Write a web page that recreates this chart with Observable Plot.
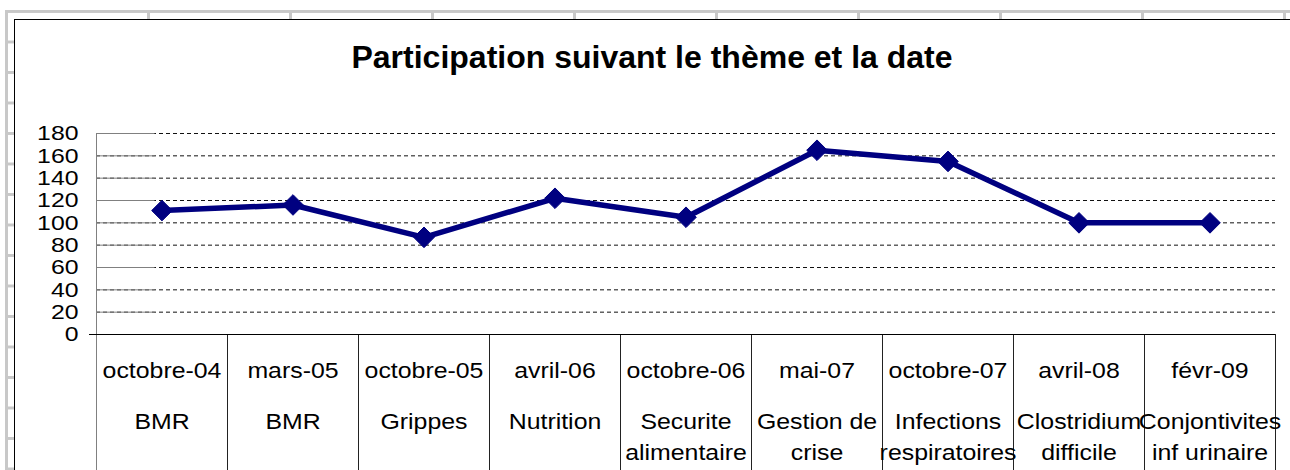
<!DOCTYPE html>
<html><head><meta charset="utf-8">
<script src="https://cdn.jsdelivr.net/npm/d3@7"></script>
<script src="https://cdn.jsdelivr.net/npm/@observablehq/plot@0.6"></script>
<style>
html,body{margin:0;padding:0;background:#fff;overflow:hidden}
#wrap{position:relative;width:1290px;height:470px;overflow:hidden;background:#fff;font-family:"Liberation Sans",Arial,sans-serif}
#sheet{position:absolute;left:5px;top:10px;right:0;bottom:0;
  background-image:linear-gradient(to right,#c8c8c8 0 3px,transparent 3px),linear-gradient(to bottom,#c8c8c8 0 3px,transparent 3px);
  background-size:142px 100%,100% 30.5px;background-position:0 0,0 0;}
#box{position:absolute;left:14px;top:19px;width:1290px;height:470px;background:#fff;border:1px solid #000;}
#title{position:absolute;left:14px;width:1276px;top:41px;text-align:center;font-weight:bold;font-size:32px;line-height:32px;color:#000}
#chart{position:absolute;left:0;top:100px}
</style>
</head><body>
<div id="wrap">
  <div id="sheet"></div>
  <div id="box"></div>
  <div id="title">Participation suivant le thème et la date</div>
  <div id="chart"></div>
</div>
<script>
const dates = ["octobre-04","mars-05","octobre-05","avril-06","octobre-06","mai-07","octobre-07","avril-08","févr-09"];
const themes = ["BMR","BMR","Grippes","Nutrition","Securite\nalimentaire","Gestion de\ncrise","Infections\nrespiratoires","Clostridium\ndifficile","Conjontivites\ninf urinaire"];
const participants = [111,116,87,122,105,165,155,100,100];
const yTicks = [0,20,40,60,80,100,120,140,160,180];

const rows = dates.map((d,i)=>({i, date:d, theme1: themes[i].split("\n")[0], theme2: themes[i].split("\n")[1] || "", value: participants[i]}));
const bounds = d3.range(1, dates.length+1).map(i=>i-0.5);

const plot = Plot.plot({
  width:1290, height:370,
  marginTop:33, marginBottom:136, marginLeft:96, marginRight:15,
  style:{background:"transparent", fontFamily:"'Liberation Sans', Arial, sans-serif", color:"#000"},
  x:{domain:[-0.5, dates.length-0.5], axis:null},
  y:{domain:[0,180], axis:null},
  marks:[
    Plot.ruleY(yTicks.filter(v=>v>0), {y:d=>d, stroke:"#111", strokeDasharray:"4,3", strokeWidth:1}),
    Plot.ruleY(yTicks.filter(v=>v>0), {y:d=>d, stroke:"#808080", insetLeft:-7, x2:-0.5}),
    Plot.ruleX([-0.5], {x:d=>d, stroke:"#808080", insetBottom:-140}),
    Plot.ruleX(bounds, {x:d=>d, y1:0, insetBottom:-140, stroke:"#222"}),
    Plot.ruleY([0], {y:d=>d, stroke:"#000", insetLeft:-7}),
    Plot.text(yTicks, {x:-0.5, y:d=>d, text:d=>String(d), textAnchor:"end", dx:-11-7, fontSize:21, fill:"#000"}),
    Plot.line(rows, {x:"i", y:"value", stroke:"#000080", strokeWidth:5.5, strokeLinejoin:"round"}),
    Plot.dot(rows, {x:"i", y:"value", symbol:"diamond2", r:9.3, fill:"#000080", stroke:"#000080", strokeWidth:1}),
    Plot.text(rows, {x:"i", y:()=>0, text:"date", dy:36, fontSize:22, fill:"#000", className:"cat"}),
    Plot.text(rows, {x:"i", y:()=>0, text:"theme1", dy:87, fontSize:22, fill:"#000", className:"cat"}),
    Plot.text(rows, {x:"i", y:()=>0, text:"theme2", dy:118, fontSize:22, fill:"#000", className:"cat"})
  ]
});
document.getElementById("chart").appendChild(plot);
// widen glyphs horizontally to mimic the reference rendering
plot.querySelectorAll("text").forEach(t=>{
  const isCat = t.closest(".cat") || (t.parentNode && t.parentNode.getAttribute && /cat/.test(t.parentNode.getAttribute("class")||""));
  const k = isCat ? 1.13 : 1.18;
  const len = t.getComputedTextLength();
  if (len>0){ t.setAttribute("textLength", (len*k).toFixed(1)); t.setAttribute("lengthAdjust","spacingAndGlyphs"); }
});
</script>
</body></html>
